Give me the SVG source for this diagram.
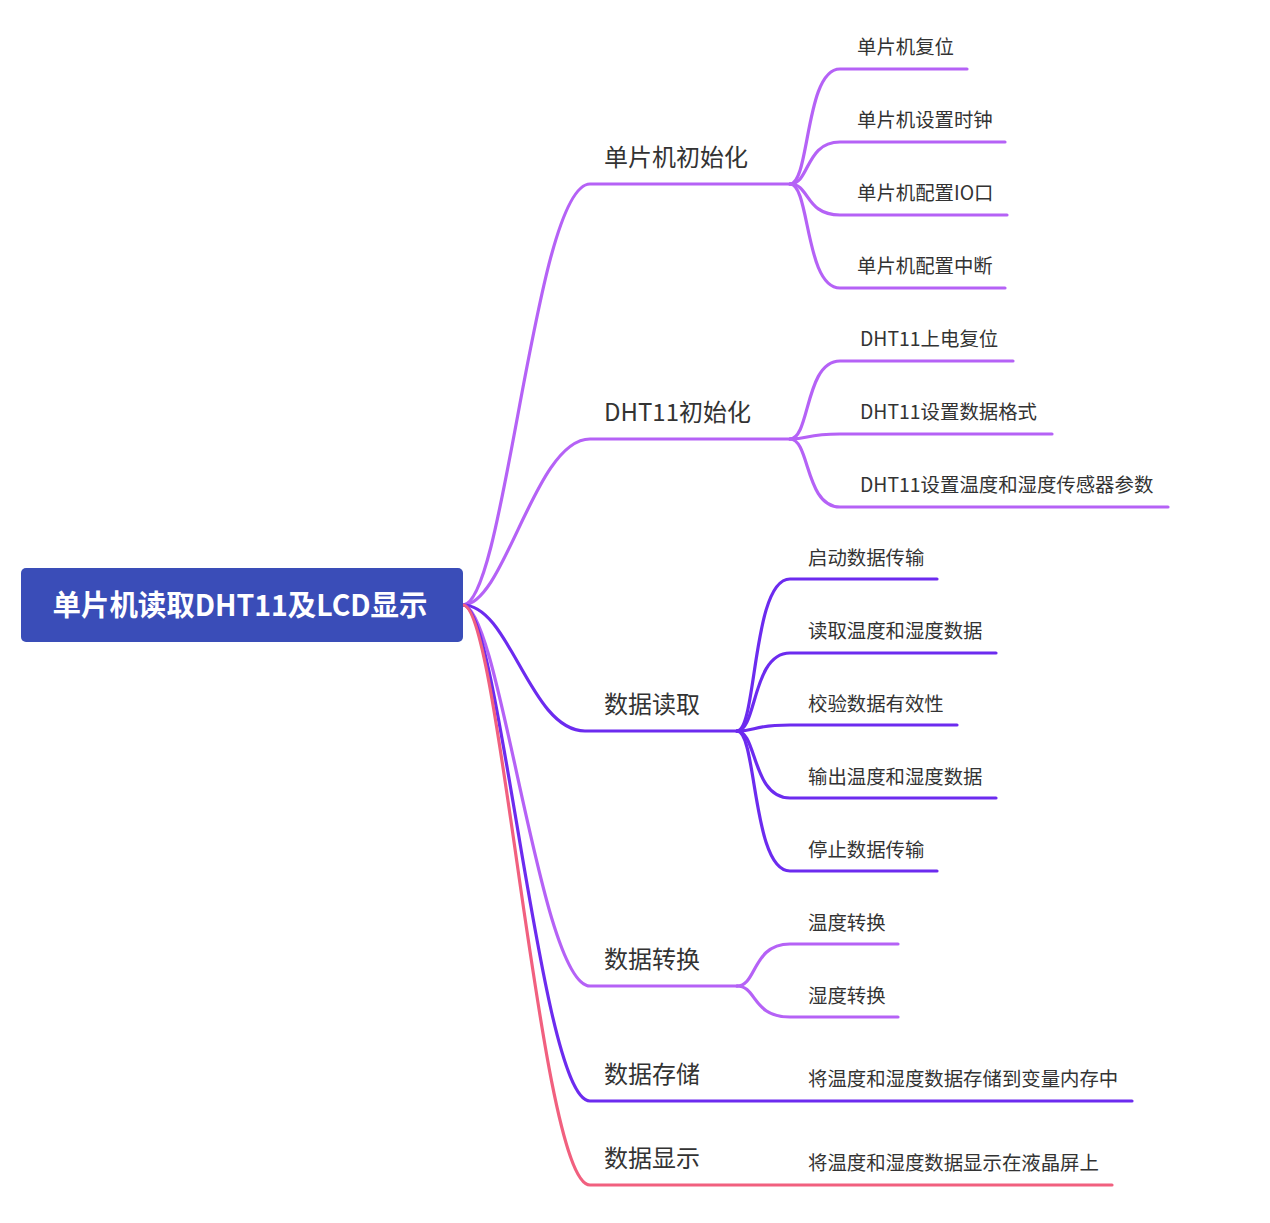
<svg xmlns="http://www.w3.org/2000/svg" width="1270" height="1223" viewBox="0 0 1270 1223">
<style>
.c{fill:none;stroke-width:3.2;stroke-linecap:round}
.lp{stroke:#b562f6}
.vp{stroke:#6c2bef}
.pk{stroke:#f1607f}
.t1{font-family:"Noto Sans CJK SC","Noto Sans",sans-serif;font-size:24px;fill:#333333}
.t2{font-family:"Noto Sans CJK SC","Noto Sans",sans-serif;font-size:19.4px;fill:#333333}
.root{font-family:"Noto Sans CJK SC","Noto Sans",sans-serif;font-size:29px;font-weight:bold;fill:#ffffff}
</style>
<rect width="1270" height="1223" fill="#ffffff"/>
<g id="connectors">
<path class="c lp" d="M463,605 C505,605 535,184 590,184 L790,184"/>
<path class="c lp" d="M463,605 C505,605 535,439 590,439 L790,439"/>
<path class="c vp" d="M463,605 C510,605 530,731 585,731 L737,731"/>
<path class="c lp" d="M463,605 C500,605 540,986 590,986 L737,986"/>
<path class="c vp" d="M463,605 C500,605 540,1101 590,1101 L1132,1101"/>
<path class="c pk" d="M463,605 C500,605 540,1185 590,1185 L1112,1185"/>
<path class="c lp" d="M790,184 C810,184 805,69 840,69 L967,69"/>
<path class="c lp" d="M790,184 C810,184 805,142 840,142 L1005,142"/>
<path class="c lp" d="M790,184 C810,184 805,215 840,215 L1007,215"/>
<path class="c lp" d="M790,184 C810,184 805,288 840,288 L1005,288"/>
<path class="c lp" d="M790,439 C810,439 805,361 840,361 L1013,361"/>
<path class="c lp" d="M790,439 C810,439 805,434 840,434 L1052,434"/>
<path class="c lp" d="M790,439 C810,439 805,507 840,507 L1168,507"/>
<path class="c vp" d="M737,731 C757,731 752,579 790,579 L937,579"/>
<path class="c vp" d="M737,731 C757,731 752,653 790,653 L996,653"/>
<path class="c vp" d="M737,731 C757,731 752,725 790,725 L957,725"/>
<path class="c vp" d="M737,731 C757,731 752,798 790,798 L996,798"/>
<path class="c vp" d="M737,731 C757,731 752,871 790,871 L937,871"/>
<path class="c lp" d="M737,986 C757,986 752,944 790,944 L898,944"/>
<path class="c lp" d="M737,986 C757,986 752,1017 790,1017 L898,1017"/>
</g>
<g id="root">
<rect x="21" y="568" width="442" height="74" rx="5" fill="#3a4db8"/>
<text class="root" x="240" y="616" text-anchor="middle" textLength="375" lengthAdjust="spacingAndGlyphs">单片机读取DHT11及LCD显示</text>
</g>
<g id="n1"><text class="t1" x="604" y="166">单片机初始化</text></g>
<g id="n1a"><text class="t2" x="857" y="54">单片机复位</text></g>
<g id="n1b"><text class="t2" x="857" y="127">单片机设置时钟</text></g>
<g id="n1c"><text class="t2" x="857" y="200">单片机配置IO口</text></g>
<g id="n1d"><text class="t2" x="857" y="273">单片机配置中断</text></g>
<g id="n2"><text class="t1" x="604" y="421">DHT11初始化</text></g>
<g id="n2a"><text class="t2" x="860" y="346">DHT11上电复位</text></g>
<g id="n2b"><text class="t2" x="860" y="419">DHT11设置数据格式</text></g>
<g id="n2c"><text class="t2" x="860" y="492">DHT11设置温度和湿度传感器参数</text></g>
<g id="n3"><text class="t1" x="604" y="713">数据读取</text></g>
<g id="n3a"><text class="t2" x="808" y="565">启动数据传输</text></g>
<g id="n3b"><text class="t2" x="808" y="638">读取温度和湿度数据</text></g>
<g id="n3c"><text class="t2" x="808" y="711">校验数据有效性</text></g>
<g id="n3d"><text class="t2" x="808" y="784">输出温度和湿度数据</text></g>
<g id="n3e"><text class="t2" x="808" y="857">停止数据传输</text></g>
<g id="n4"><text class="t1" x="604" y="968">数据转换</text></g>
<g id="n4a"><text class="t2" x="808" y="930">温度转换</text></g>
<g id="n4b"><text class="t2" x="808" y="1003">湿度转换</text></g>
<g id="n5"><text class="t1" x="604" y="1083">数据存储</text></g>
<g id="n5a"><text class="t2" x="808" y="1086">将温度和湿度数据存储到变量内存中</text></g>
<g id="n6"><text class="t1" x="604" y="1167">数据显示</text></g>
<g id="n6a"><text class="t2" x="808" y="1170">将温度和湿度数据显示在液晶屏上</text></g>
</svg>
